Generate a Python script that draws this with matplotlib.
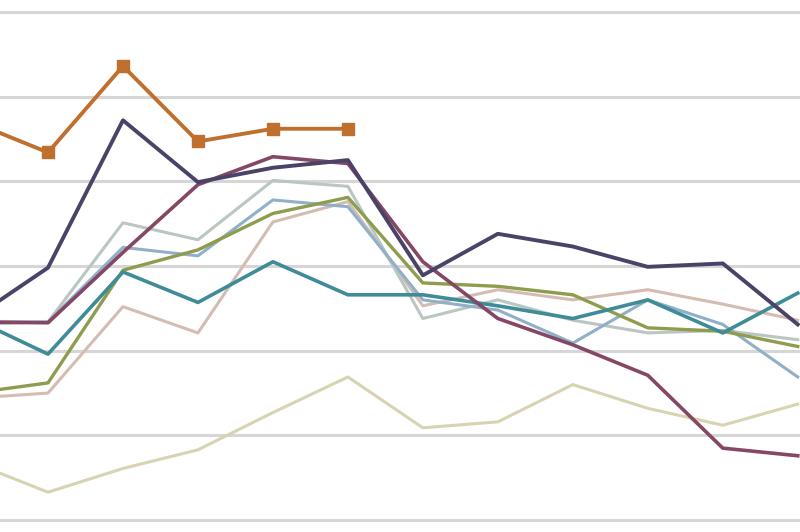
import matplotlib
matplotlib.use("Agg")
import matplotlib.pyplot as plt

periods = list(range(12))

orange = [47.0, 43.4, 53.6, 44.7, 46.2, 46.2]
navy = [23.8, 29.8, 47.2, 39.9, 41.6, 42.5, 28.9, 33.8, 32.3, 29.9, 30.3, 23.1]
plum = [23.4, 23.3, 31.6, 39.6, 42.9, 42.1, 30.5, 23.8, 20.7, 17.1, 8.5, 7.6]
teal = [23.8, 19.6, 29.3, 25.7, 30.5, 26.6, 26.6, 25.3, 23.8, 26.0, 22.1, 26.8]
steel = [23.4, 23.4, 32.2, 31.2, 37.8, 37.0, 26.0, 24.8, 20.9, 26.0, 23.1, 16.9]
olive = [15.0, 16.2, 29.5, 31.9, 36.2, 38.1, 28.0, 27.6, 26.6, 22.7, 22.3, 20.5]
palegreen = [23.1, 23.4, 35.1, 33.1, 40.1, 39.4, 23.8, 26.0, 23.6, 22.1, 22.4, 21.3]
tan = [14.4, 15.0, 25.2, 22.1, 35.2, 37.6, 25.3, 27.2, 26.0, 27.2, 25.5, 23.6]
beige = [6.8, 3.3, 6.1, 8.3, 12.7, 16.9, 10.9, 11.6, 16.0, 13.2, 11.2, 13.7]

fig = plt.figure(figsize=(8, 5.32), dpi=100)
ax = fig.add_axes([0, 0, 1, 1])
ax.set_xlim(0.36, 11.03)
ax.set_ylim(-1.4, 61.4)
for g in range(0, 61, 10):
    ax.axhline(g, color="#d6d6d6", lw=2.2, zorder=0)

ax.plot(periods, beige, color="#d8d3b2", lw=2.2)
ax.plot(periods, tan, color="#d5bcb2", lw=2.2)
ax.plot(periods, palegreen, color="#b9c6c2", lw=2.2)
ax.plot(periods, steel, color="#8fb0c8", lw=2.2)
ax.plot(periods, olive, color="#8e9c4e", lw=2.4)
ax.plot(periods, teal, color="#3f8b98", lw=2.6)
ax.plot(periods, plum, color="#864764", lw=2.6)
ax.plot(periods, navy, color="#4a4368", lw=2.8)
ax.plot(periods[:len(orange)], orange, color="#c0702e", lw=2.8,
        marker="s", markersize=9)

ax.axis("off")
fig.savefig("out.png", dpi=100)
